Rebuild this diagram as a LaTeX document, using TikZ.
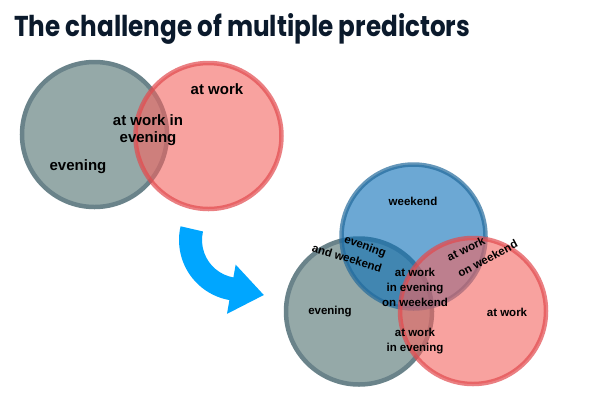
\documentclass[tikz,border=0pt]{standalone}
\usepackage{fontspec}
\usepackage{graphicx}
\setmainfont{Liberation Sans}
\newfontfamily\titlefont{Poppins}
\definecolor{titlecol}{HTML}{0B1A2C}
\definecolor{grayfill}{HTML}{95A9A8}
\definecolor{grayline}{HTML}{6A838A}
\definecolor{redfill}{HTML}{F46460}
\definecolor{redline}{HTML}{E24A4E}
\definecolor{bluefill}{HTML}{0A6FB8}
\definecolor{blueline}{HTML}{236A9C}
\definecolor{arrowblue}{HTML}{00A6FF}
\begin{document}
\begin{tikzpicture}[x=1pt,y=-1pt,
  vcircle/.style={circle,inner sep=0pt,minimum size=144pt,line width=4.5pt},
  graycirc/.style={vcircle,fill=grayfill,draw=grayline},
  redcirc/.style={vcircle,fill=redfill,fill opacity=0.6,draw=redline,draw opacity=0.7},
  bluecirc/.style={vcircle,fill=bluefill,fill opacity=0.6,draw=blueline,draw opacity=0.7},
  biglabel/.style={font=\bfseries\fontsize{15}{17}\selectfont,align=center,inner sep=0pt,text=black},
  smalllabel/.style={font=\bfseries\fontsize{11.5}{15}\selectfont,align=center,inner sep=0pt,text=black}]
\useasboundingbox (0,0) rectangle (591,408);
\fill[white] (0,0) rectangle (591,408);
% title
\node[anchor=base west,inner sep=0pt,text=titlecol] (title) at (14,36) {\resizebox{456pt}{23pt}{\titlefont\bfseries The challenge of multiple predictors}};
% left venn
\node[graycirc,minimum size=145pt] (lgray) at (94.5,134.5) {};
\node[redcirc,minimum size=146pt] (lred) at (208.5,136) {};
\node[biglabel] (latwork) at (217,89) {at work};
\node[biglabel] (lboth) at (148,130) {at work in\\evening};
\node[biglabel] (leven) at (78,167) {evening};
% arrow
\fill[arrowblue,shift={(240,240)}] (193:61) arc[start angle=193,end angle=100,radius=61]
  -- (100:75) -- (23.8,55) -- (100:25) -- (100:38)
  arc[start angle=100,end angle=193,radius=38] -- cycle;
% right venn
\node[graycirc,minimum size=146pt] (rgray) at (359,311.5) {};
\node[bluecirc,minimum size=144pt] (rblue) at (413.5,236.5) {};
\node[redcirc,minimum size=146pt] (rred) at (473,311) {};
\node[smalllabel] (weekend) at (413,201) {weekend};
\node[smalllabel,rotate=-20] (evwe1) at (365,247) {evening};
\node[smalllabel,rotate=-17] (evwe2) at (347,258) {and weekend};
\node[smalllabel,rotate=25] (awow1) at (466,249) {at work};
\node[smalllabel,rotate=28] (awow2) at (487.5,258.5) {on weekend};
\node[smalllabel] (center) at (415,287) {at work\\in evening\\on weekend};
\node[smalllabel] (reven) at (330,312) {evening};
\node[smalllabel] (rwork) at (507,312) {at work};
\node[smalllabel] (aweve) at (415,341.5) {at work\\in evening};
\end{tikzpicture}
\end{document}
